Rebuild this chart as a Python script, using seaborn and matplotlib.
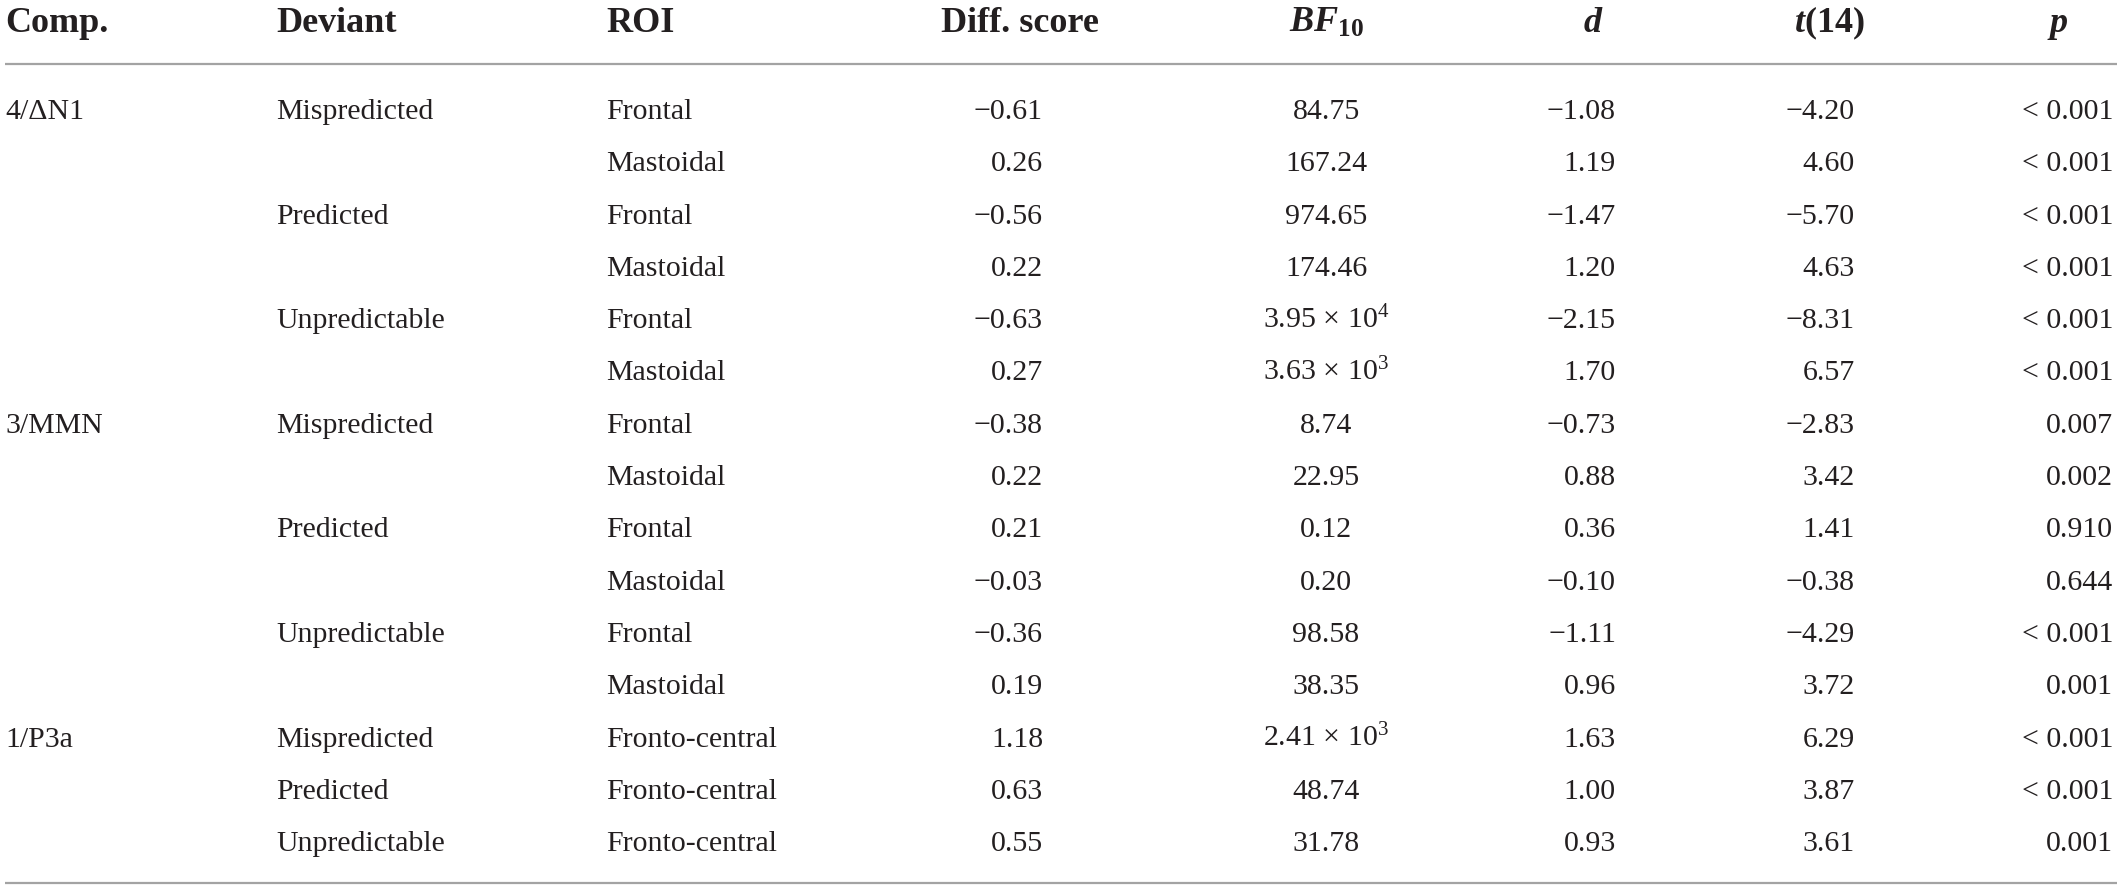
import matplotlib
matplotlib.use("Agg")
import matplotlib.pyplot as plt
import seaborn as sns
import pandas as pd

# ---------------- data ----------------
comps = ["4/ΔN1"] * 6 + ["3/MMN"] * 6 + ["1/P3a"] * 3
deviants = ["Mispredicted", "Mispredicted", "Predicted", "Predicted", "Unpredictable", "Unpredictable",
            "Mispredicted", "Mispredicted", "Predicted", "Predicted", "Unpredictable", "Unpredictable",
            "Mispredicted", "Predicted", "Unpredictable"]
rois = ["Frontal", "Mastoidal"] * 6 + ["Fronto-central"] * 3
diff_scores = [-0.61, 0.26, -0.56, 0.22, -0.63, 0.27, -0.38, 0.22, 0.21, -0.03, -0.36, 0.19, 1.18, 0.63, 0.55]
bf10 = [84.75, 167.24, 974.65, 174.46, 3.95e4, 3.63e3, 8.74, 22.95, 0.12, 0.20, 98.58, 38.35, 2.41e3, 48.74, 31.78]
cohen_d = [-1.08, 1.19, -1.47, 1.20, -2.15, 1.70, -0.73, 0.88, 0.36, -0.10, -1.11, 0.96, 1.63, 1.00, 0.93]
t_vals = [-4.20, 4.60, -5.70, 4.63, -8.31, 6.57, -2.83, 3.42, 1.41, -0.38, -4.29, 3.72, 6.29, 3.87, 3.61]
p_vals = ["< 0.001", "< 0.001", "< 0.001", "< 0.001", "< 0.001", "< 0.001", "0.007", "0.002",
          "0.910", "0.644", "< 0.001", "0.001", "< 0.001", "< 0.001", "0.001"]
headers = ["Comp.", "Deviant", "ROI", "Diff. score", r"$BF_{\mathbf{10}}$", "$d$", "$t$(14)", "$p$"]

df = pd.DataFrame({"comp": comps, "deviant": deviants, "roi": rois, "diff": diff_scores,
                   "bf": bf10, "d": cohen_d, "t": t_vals, "p": p_vals})

# ---------------- style ----------------
sns.set_theme(style="white")
plt.rcParams["font.family"] = ["Liberation Serif", "DejaVu Serif"]
plt.rcParams["mathtext.fontset"] = "custom"
plt.rcParams["mathtext.rm"] = "Liberation Serif"
plt.rcParams["mathtext.it"] = "Liberation Serif:italic:bold"
plt.rcParams["mathtext.bf"] = "Liberation Serif:bold"

TXT = "#231f20"
RULE = "#a3a3a3"
W, H = 2117, 889


def fmt_num(v):
    s = f"{abs(v):.2f}"
    return ("\u2212" + s) if v < 0 else s


def fmt_bf(v):
    if v >= 1000:
        e = 0
        m = v
        while m >= 10:
            m /= 10
            e += 1
        return f"{m:.2f} \u00d7 10$^{{{e}}}$"
    return f"{v:.2f}"


fig = plt.figure(figsize=(W / 100, H / 100), dpi=100)
ax = fig.add_axes([0, 0, 1, 1])
ax.set_xlim(0, W)
ax.set_ylim(H, 0)
ax.axis("off")

# column layout: (x, ha) for header and body
hdr_pos = [(5, "left"), (276, "left"), (606, "left"), (1020, "center"), (1326, "center"),
           (1593, "center"), (1829, "center"), (2058, "center")]
body_pos = [(5, "left"), (276, "left"), (606, "left"), (1043, "right"), (1326, "center"),
            (1616, "right"), (1855, "right"), (2113, "right")]

HDR_FS = 26
BODY_FS = 21.5

for (x, ha), h in zip(hdr_pos, headers):
    ax.text(x, 32, h, ha=ha, va="baseline", fontsize=HDR_FS, fontweight="bold", color=TXT)

ax.hlines(64, 5, W, color=RULE, lw=1.6)
ax.hlines(883, 5, W, color=RULE, lw=1.6)

row0, step = 119, 52.3
prev_comp, prev_dev = None, None
for i, r in df.iterrows():
    y = row0 + step * i
    comp_txt = r["comp"] if r["comp"] != prev_comp else ""
    dev_txt = r["deviant"] if (r["deviant"] != prev_dev or r["comp"] != prev_comp) else ""
    prev_comp, prev_dev = r["comp"], r["deviant"]
    cells = [comp_txt, dev_txt, r["roi"], fmt_num(r["diff"]), fmt_bf(r["bf"]),
             fmt_num(r["d"]), fmt_num(r["t"]), r["p"]]
    for (x, ha), c in zip(body_pos, cells):
        if c:
            ax.text(x, y, c, ha=ha, va="baseline", fontsize=BODY_FS, color=TXT)

fig.savefig("out.png", dpi=100, facecolor="white")
